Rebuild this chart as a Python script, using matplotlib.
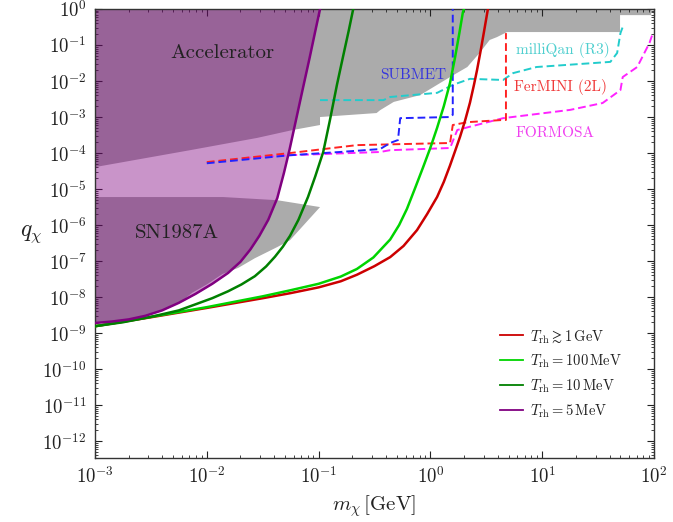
import numpy as np
import matplotlib
matplotlib.use("Agg")
import matplotlib.pyplot as plt
from matplotlib.ticker import LogLocator, FuncFormatter, NullFormatter

plt.rcParams["font.family"] = "serif"
plt.rcParams["font.serif"] = ["cmr10", "DejaVu Serif"]
plt.rcParams["mathtext.fontset"] = "cm"
plt.rcParams["axes.unicode_minus"] = False

# ---------------- freeze-in curves for different reheating temperatures ----------------
m_trh_1gev = [1.0e-3, 3.16e-3, 1.0e-2, 3.16e-2, 5.62e-2, 0.1, 0.158, 0.220, 0.316, 0.437,
              0.575, 0.759, 0.933, 1.148, 1.318, 1.496, 1.660, 1.841, 2.042, 2.259,
              2.455, 2.612, 2.818, 3.020, 3.206, 3.27]
q_trh_1gev = [1.55e-9, 2.75e-9, 5.0e-9, 9.3e-9, 1.29e-8, 1.86e-8, 2.75e-8, 4.17e-8, 7.24e-8, 1.29e-7,
              2.63e-7, 7.24e-7, 2.0e-6, 6.03e-6, 1.58e-5, 4.47e-5, 1.12e-4, 2.82e-4, 7.94e-4, 2.51e-3,
              7.94e-3, 2.0e-2, 7.08e-2, 0.240, 0.708, 1.0]

m_trh_100mev = [1.0e-3, 3.16e-3, 1.0e-2, 3.16e-2, 5.62e-2, 0.1, 0.158, 0.220, 0.309, 0.437,
                0.525, 0.617, 0.724, 0.859, 1.0, 1.148, 1.318, 1.496, 1.660, 1.820, 1.950, 1.995]
q_trh_100mev = [1.55e-9, 2.82e-9, 5.25e-9, 1.05e-8, 1.55e-8, 2.34e-8, 3.72e-8, 6.03e-8, 1.26e-7, 3.98e-7,
                1.0e-6, 2.82e-6, 1.0e-5, 3.98e-5, 1.41e-4, 5.01e-4, 2.0e-3, 8.71e-3, 4.47e-2, 0.224,
                0.794, 1.0]

m_trh_10mev = [1.0e-3, 1.78e-3, 3.16e-3, 5.62e-3, 7.94e-3, 1.12e-2, 1.55e-2, 2.04e-2, 2.69e-2, 3.39e-2,
               4.07e-2, 4.79e-2, 5.55e-2, 6.61e-2, 8.04e-2, 9.33e-2, 0.110, 0.126, 0.146, 0.166,
               0.186, 0.204]
q_trh_10mev = [1.55e-9, 2.0e-9, 2.82e-9, 4.27e-9, 6.31e-9, 9.33e-9, 1.45e-8, 2.24e-8, 3.80e-8, 7.08e-8,
               1.32e-7, 2.51e-7, 5.01e-7, 1.41e-6, 6.03e-6, 2.24e-5, 1.07e-4, 7.94e-4, 7.94e-3, 5.01e-2,
               0.251, 1.0]

m_trh_5mev = [1.0e-3, 1.41e-3, 2.0e-3, 2.82e-3, 3.98e-3, 5.62e-3, 7.94e-3, 1.12e-2, 1.55e-2, 2.0e-2,
              2.45e-2, 2.95e-2, 3.55e-2, 4.27e-2, 4.90e-2, 5.50e-2, 6.31e-2, 7.24e-2, 8.32e-2, 9.33e-2,
              0.103]
q_trh_5mev = [1.91e-9, 2.09e-9, 2.40e-9, 3.02e-9, 4.27e-9, 6.92e-9, 1.23e-8, 2.34e-8, 4.68e-8, 9.55e-8,
              2.09e-7, 5.01e-7, 1.41e-6, 5.62e-6, 2.82e-5, 1.26e-4, 8.91e-4, 6.31e-3, 4.47e-2, 0.240,
              1.0]

# ---------------- existing bounds (grey regions) ----------------
m_accel = [1.0e-3, 1.0e-3, 94.4, 94.4, 49.7, 49.7, 4.84, 3.94, 3.39, 2.75, 2.14, 1.50,
           0.81, 0.47, 0.355, 0.33, 0.103, 0.103, 0.0589, 0.0282, 7.08e-3, 1.0e-3]
q_accel = [4.07e-5, 1.0, 1.0, 0.676, 0.676, 0.229, 0.229, 0.166, 0.138, 6.0e-2, 2.45e-2, 1.29e-2,
           4.07e-3, 2.63e-3, 1.55e-3, 1.29e-3, 1.0e-3, 6.0e-4, 4.37e-4, 2.63e-4, 1.2e-4, 4.07e-5]

m_sn = [1.0e-3, 1.4e-2, 4.27e-2, 0.103, 0.0555, 0.0427, 0.0269, 0.0191, 0.0138, 0.01,
        7.41e-3, 6.31e-3, 5.62e-3, 3.98e-3, 2.82e-3, 2.0e-3, 1.0e-3]
q_sn = [6.0e-6, 6.0e-6, 4.9e-6, 3.16e-6, 3.8e-7, 2.45e-7, 1.2e-7, 6.46e-8, 4.37e-8, 2.24e-8,
        1.32e-8, 8.91e-9, 6.92e-9, 4.27e-9, 3.02e-9, 2.40e-9, 1.91e-9]

# ---------------- projected sensitivities (dashed) ----------------
m_submet = [1.0e-2, 0.0555, 0.155, 0.355, 0.436, 0.513, 0.537, 1.50, 1.585, 1.585]
q_submet = [5.2e-5, 8.7e-5, 1.07e-4, 1.29e-4, 1.9e-4, 2.3e-4, 9.3e-4, 1.0e-3, 1.15e-3, 1.0]

m_fermini = [1.0e-2, 0.0555, 0.22, 1.50, 1.585, 2.14, 4.47, 4.74, 4.74]
q_fermini = [5.6e-5, 1.0e-4, 1.66e-4, 1.9e-4, 6.0e-4, 7.2e-4, 8.3e-4, 8.3e-4, 0.214]

m_formosa = [2.1e-2, 0.0555, 0.355, 0.436, 1.50, 1.74, 4.47, 17.8, 34.7, 50.1, 52.5, 70.8, 91.2, 97.7]
q_formosa = [7.2e-5, 8.7e-5, 1.07e-4, 1.2e-4, 1.38e-4, 4.37e-4, 9.3e-4, 1.58e-3, 2.45e-3,
             5.6e-3, 1.29e-2, 2.45e-2, 0.115, 0.214]

m_milliqan = [0.103, 0.38, 0.436, 1.15, 1.585, 2.26, 4.47, 5.5, 8.9, 40.7, 46.8, 50.1, 52.5]
q_milliqan = [2.95e-3, 2.95e-3, 3.6e-3, 4.7e-3, 7.8e-3, 1.15e-2, 1.07e-2, 1.66e-2, 2.45e-2,
              3.4e-2, 6.0e-2, 0.214, 0.316]

# ---------------- labels ----------------
legend_labels = [r"$T_{\rm rh}\gtrsim 1\,{\rm GeV}$",
                 r"$T_{\rm rh}=100\,{\rm MeV}$",
                 r"$T_{\rm rh}=10\,{\rm MeV}$",
                 r"$T_{\rm rh}=5\,{\rm MeV}$"]
curve_colors = ["#cc0000", "#00d400", "#008000", "#800080"]

fig = plt.figure(figsize=(6.73, 5.22), dpi=100)
ax = fig.add_axes([95 / 673, 1 - 458 / 522, (654 - 95) / 673, (458 - 9) / 522])
ax.set_xscale("log")
ax.set_yscale("log")
ax.set_xlim(1e-3, 1e2)
ax.set_ylim(3.4e-13, 1.0)

gray = "#ababab"
ax.fill(m_accel, q_accel, color=gray, lw=0, zorder=1)
ax.fill(m_sn, q_sn, color=gray, lw=0, zorder=1)

# region excluded for T_rh = 5 MeV
ax.fill_between(m_trh_5mev, q_trh_5mev, 1.0, color="#800080", alpha=0.42, lw=0, zorder=2)

dash = (0, (4, 2))
ax.plot(m_milliqan, q_milliqan, color="#22cccc", lw=1.4, ls=dash, zorder=3)
ax.plot(m_formosa, q_formosa, color="#ff22ff", lw=1.4, ls=dash, zorder=3)
ax.plot(m_fermini, q_fermini, color="#ff2222", lw=1.4, ls=dash, zorder=3)
ax.plot(m_submet, q_submet, color="#2222ff", lw=1.4, ls=dash, zorder=3)

handles = []
for m, q, c, lab in zip([m_trh_1gev, m_trh_100mev, m_trh_10mev, m_trh_5mev],
                        [q_trh_1gev, q_trh_100mev, q_trh_10mev, q_trh_5mev],
                        curve_colors, legend_labels):
    h, = ax.plot(m, q, color=c, lw=1.8, zorder=4, label=lab, solid_joinstyle="round")
    handles.append(h)

leg = ax.legend(handles=handles, loc="upper left", bbox_to_anchor=(0.724, 0.29),
                frameon=False, fontsize=10.5, handlelength=1.6, handletextpad=0.5,
                labelspacing=0.52, borderaxespad=0, borderpad=0)
for ln in leg.get_lines():
    ln.set_linewidth(1.3)
for t in leg.get_texts():
    t.set_color("#222222")

# region and experiment labels
ax.text(0.0137, 0.060, "Accelerator", fontsize=15, ha="center", va="center", color="#222222", zorder=5)
ax.text(5.4e-3, 6.0e-7, "SN1987A", fontsize=15, ha="center", va="center", color="#222222", zorder=5)
ax.text(0.70, 0.0147, "SUBMET", fontsize=11, ha="center", va="center", color="#3535dd", zorder=5)
ax.text(15.3, 0.072, "milliQan (R3)", fontsize=11, ha="center", va="center", color="#4fcfcf", zorder=5)
ax.text(14.5, 6.8e-3, "FerMINI (2L)", fontsize=11, ha="center", va="center", color="#f03a3a", zorder=5)
ax.text(13.0, 3.6e-4, "FORMOSA", fontsize=11, ha="center", va="center", color="#f040f0", zorder=5)

# axes styling
fmt = FuncFormatter(lambda v, p: r"$10^{%d}$" % int(round(np.log10(v))))
for axis in (ax.xaxis, ax.yaxis):
    axis.set_major_locator(LogLocator(base=10, numticks=30))
    axis.set_minor_locator(LogLocator(base=10, subs=np.arange(2, 10), numticks=200))
    axis.set_major_formatter(fmt)
    axis.set_minor_formatter(NullFormatter())
ax.tick_params(which="both", direction="in", top=True, right=True, labelsize=13.5, colors="#222222")
ax.tick_params(which="major", length=5, width=0.8, pad=6)
ax.tick_params(which="minor", length=2.5, width=0.6)
for s in ax.spines.values():
    s.set_linewidth(1.0)
    s.set_color("#333333")

ax.set_xlabel(r"$m_\chi\,[{\rm GeV}]$", fontsize=15, color="#222222", labelpad=4)
ax.set_ylabel(r"$q_\chi$", fontsize=17, color="#222222", rotation=0, labelpad=8, va="center")

fig.savefig("out.png", dpi=100)
